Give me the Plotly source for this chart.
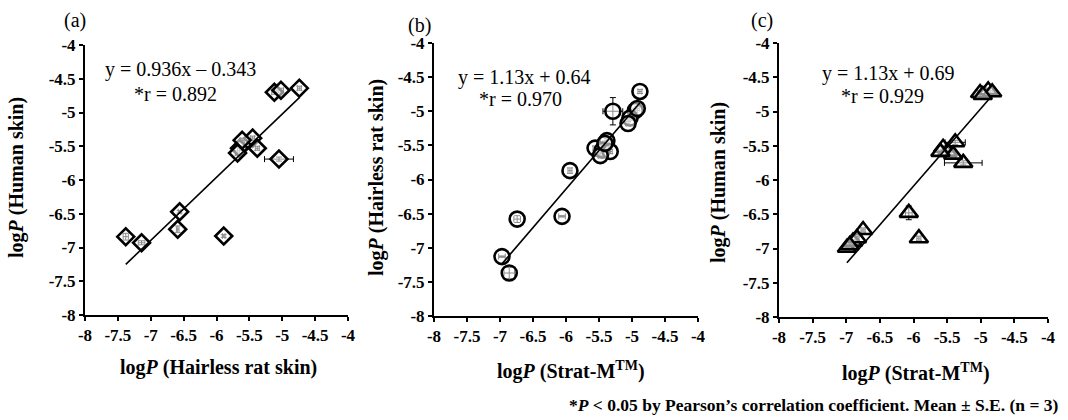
import plotly.graph_objects as go

# ---------------- data ----------------
a_x = [-5.12, -5.02, -4.74, -5.65, -5.45, -5.38, -5.61, -5.68, -5.05, -7.38, -7.14, -6.56, -6.59, -5.89]
a_y = [-4.70, -4.67, -4.64, -5.53, -5.38, -5.53, -5.41, -5.60, -5.69, -6.84, -6.93, -6.47, -6.73, -6.83]
a_xerr = [0.04, 0.04, 0.03, 0.03, 0.03, 0.03, 0.03, 0.03, 0.22, 0.04, 0.05, 0.02, 0.02, 0.02]
a_yerr = [0.03, 0.03, 0.03, 0.03, 0.03, 0.03, 0.03, 0.03, 0.03, 0.05, 0.03, 0.02, 0.05, 0.02]

b_x = [-4.88, -5.29, -4.95, -5.03, -5.06, -4.92, -5.38, -5.56, -5.45, -5.33, -5.48, -5.41, -5.94, -6.74, -6.06, -6.97, -6.86]
b_y = [-4.71, -5.00, -4.99, -5.10, -5.18, -4.96, -5.43, -5.54, -5.57, -5.59, -5.65, -5.47, -5.87, -6.58, -6.54, -7.13, -7.37]
b_xerr = [0.03, 0.15, 0.03, 0.03, 0.03, 0.03, 0.03, 0.03, 0.03, 0.03, 0.03, 0.03, 0.03, 0.05, 0.05, 0.05, 0.08]
b_yerr = [0.03, 0.20, 0.03, 0.03, 0.03, 0.03, 0.03, 0.03, 0.03, 0.03, 0.03, 0.03, 0.04, 0.05, 0.01, 0.01, 0.08]

c_x = [-5.01, -4.89, -4.83, -4.97, -5.56, -5.38, -5.49, -5.26, -5.41, -5.60, -6.07, -5.92, -6.75, -6.99, -6.90, -6.84, -6.95]
c_y = [-4.73, -4.69, -4.72, -4.76, -5.53, -5.45, -5.59, -5.75, -5.63, -5.59, -6.48, -6.85, -6.73, -6.99, -6.90, -6.85, -6.95]
c_xerr = [0.03, 0.03, 0.03, 0.03, 0.03, 0.15, 0.03, 0.28, 0.03, 0.03, 0.05, 0.03, 0.03, 0.03, 0.03, 0.03, 0.03]
c_yerr = [0.03, 0.03, 0.03, 0.03, 0.03, 0.03, 0.03, 0.03, 0.03, 0.03, 0.10, 0.03, 0.03, 0.03, 0.03, 0.03, 0.03]

fits = {
    "a": (0.936, -0.343),
    "b": (1.13, 0.64),
    "c": (1.13, 0.69),
}

tick_vals = [-8, -7.5, -7, -6.5, -6, -5.5, -5, -4.5, -4]
tick_text = ["-8", "-7.5", "-7", "-6.5", "-6", "-5.5", "-5", "-4.5", "-4"]

eq_text = ["y = 0.936x – 0.343", "y = 1.13x + 0.64", "y = 1.13x + 0.69"]
r_text = ["*r = 0.892", "*r = 0.970", "*r = 0.929"]
panel_labels = ["(a)", "(b)", "(c)"]
x_titles = ["log<i>P</i> (Hairless rat skin)", "log<i>P</i> (Strat-M<sup>TM</sup>)", "log<i>P</i> (Strat-M<sup>TM</sup>)"]
y_titles = ["log<i>P</i> (Human skin)", "log<i>P</i> (Hairless rat skin)", "log<i>P</i> (Human skin)"]
footnote = "*<i>P</i> < 0.05 by Pearson’s correlation coefficient. Mean ± S.E. (n = 3)"

# ---------------- layout ----------------
W, H = 1068, 420
SERIF = "Liberation Serif"

# axis boxes in pixels (left, right, top, bottom)
boxes = [(85, 348, 45, 315), (434, 698, 43, 316), (779, 1048, 43, 317)]
symbols = ["diamond", "circle", "triangle-up"]
sizes = [13, 15, 16]

datasets = [
    (a_x, a_y, a_xerr, a_yerr, "a"),
    (b_x, b_y, b_xerr, b_yerr, "b"),
    (c_x, c_y, c_xerr, c_yerr, "c"),
]

fig = go.Figure()
fig.update_layout(
    template="none",
    width=W, height=H, margin=dict(l=0, r=0, t=0, b=0, pad=0, autoexpand=False),
    paper_bgcolor="white", plot_bgcolor="white",
    font=dict(family=SERIF, size=17, color="black"),
    showlegend=False,
)

for i, ((xs, ys, xe, ye, key), box, sym, sz) in enumerate(zip(datasets, boxes, symbols, sizes)):
    n = "" if i == 0 else str(i + 1)
    xa, ya = "x" + n, "y" + n
    slope, icpt = fits[key]
    lx = [min(xs), max(xs)]
    ly = [slope * v + icpt for v in lx]
    fig.add_trace(go.Scatter(
        x=xs, y=ys, mode="markers", xaxis=xa, yaxis=ya, showlegend=False,
        marker=dict(symbol=sym, size=sz, color="rgba(255,255,255,0.55)",
                    line=dict(color="black", width=2.6)),
        error_x=dict(type="data", array=xe, color="black", thickness=1, width=3),
        error_y=dict(type="data", array=ye, color="black", thickness=1, width=3),
    ))
    fig.add_trace(go.Scatter(
        x=lx, y=ly, mode="lines", xaxis=xa, yaxis=ya, showlegend=False,
        line=dict(color="black", width=1.6),
    ))
    l, r, t, b = box
    fig.update_layout(**{
        "xaxis" + n: dict(domain=[l / W, r / W], anchor=ya),
        "yaxis" + n: dict(domain=[1 - b / H, 1 - t / H], anchor=xa),
    })

axis_common = dict(
    range=[-8, -4], tickmode="array", tickvals=tick_vals,
    ticktext=["<b>" + s + "</b>" for s in tick_text],
    showgrid=False, zeroline=False, showline=True, linecolor="black", linewidth=2,
    ticks="outside", ticklen=4, tickwidth=1.5, tickcolor="black", automargin=False,
    tickfont=dict(family=SERIF, size=17, color="black"),
)
fig.update_xaxes(**axis_common)
fig.update_yaxes(**axis_common)

# annotations (positions in pixels -> paper)
def ann(text, px, py, size, bold=False, angle=0, xanchor="center"):
    fig.add_annotation(
        text=("<b>" + text + "</b>") if bold else text,
        x=px / W, y=1 - py / H, xref="paper", yref="paper",
        showarrow=False, textangle=angle, xanchor=xanchor, yanchor="middle",
        font=dict(family=SERIF, size=size, color="black"),
    )

eq_pos = [(180, 70), (524, 77), (888, 73)]
r_pos = [(176, 94), (520, 99), (882, 96)]
lab_pos = [(75, 20), (419, 25), (762, 20)]
xt_pos = [(218, 367), (571, 370), (916, 372)]
yt_pos = [(16, 178), (376, 178), (718, 183)]

for i in range(3):
    ann(eq_text[i], *eq_pos[i], 20)
    ann(r_text[i], *r_pos[i], 20)
    ann(panel_labels[i], *lab_pos[i], 20)
    ann(x_titles[i], *xt_pos[i], 20, bold=True)
    ann(y_titles[i], *yt_pos[i], 20, bold=True, angle=-90)

ann(footnote, 1061, 405, 17.5, bold=True, xanchor="right")

fig.write_html(
    "out.html",
    config={"displayModeBar": False},
    post_script="document.body.style.margin='0';document.body.style.overflow='hidden';",
)
